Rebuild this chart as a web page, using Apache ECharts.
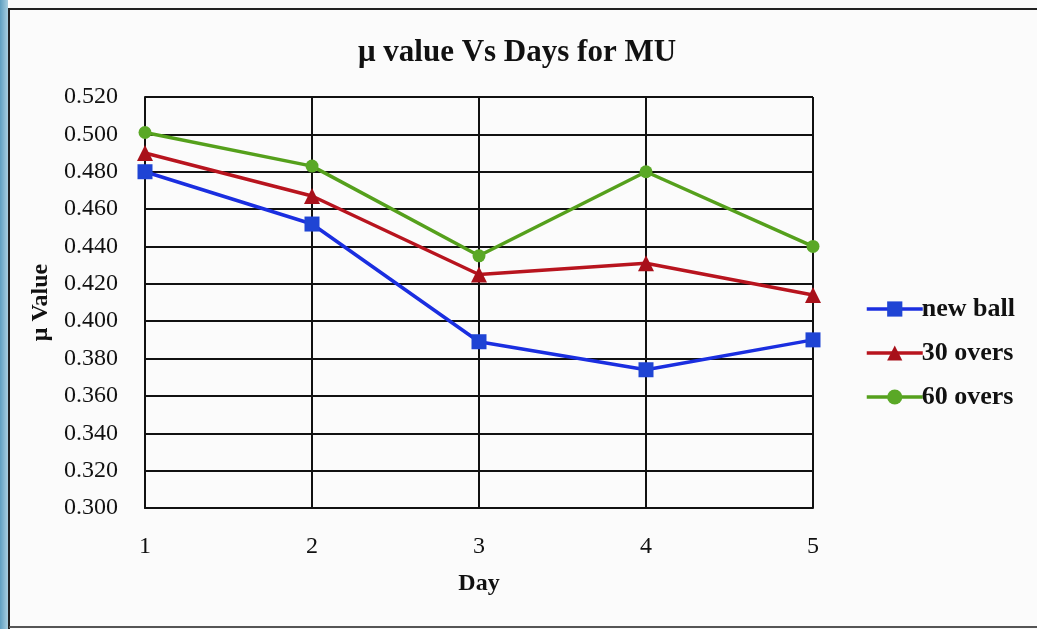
<!DOCTYPE html>
<html>
<head>
<meta charset="utf-8">
<script src="https://cdn.jsdelivr.net/npm/echarts@6/dist/echarts.min.js"></script>
<style>
  html, body { margin: 0; padding: 0; background: #fbfbfb; }
  #chart { width: 1037px; height: 629px; }
</style>
</head>
<body>
<div id="chart"></div>
<script>
// Days on the x axis
const days = ['1', '2', '3', '4', '5'];
// Friction coefficient μ per day for each ball condition
const newBall = [0.480, 0.452, 0.389, 0.374, 0.390];
const overs30 = [0.490, 0.467, 0.425, 0.431, 0.414];
const overs60 = [0.501, 0.483, 0.435, 0.480, 0.440];

const serif = '"Liberation Serif", "DejaVu Serif", serif';
const chart = echarts.init(document.getElementById('chart'));

chart.setOption({
  backgroundColor: '#fbfbfb',
  animation: false,
  title: {
    text: 'μ value Vs Days for MU',
    left: 512, top: 32, textAlign: 'center',
    textStyle: { fontFamily: serif, fontWeight: 'bold', fontSize: 31, color: '#111' }
  },
  graphic: [
    { type: 'rect', shape: { x: 0, y: 0, width: 8, height: 629 },
      style: { fill: new echarts.graphic.LinearGradient(0, 0, 1, 0, [
        { offset: 0, color: '#5f9fc0' }, { offset: 1, color: '#a9cfe0' }]) } },
    { type: 'polyline', shape: { points: [[9, 629], [9, 9], [1037, 9]] },
      style: { stroke: '#222', lineWidth: 2, fill: null } },
    { type: 'line', shape: { x1: 9, y1: 627, x2: 1037, y2: 627 },
      style: { stroke: '#555', lineWidth: 2 } }
  ],
  grid: { left: 145, right: 224, top: 97, bottom: 121 },
  legend: {
    orient: 'vertical',
    left: 860, top: 291,
    itemGap: 18,
    itemWidth: 56, itemHeight: 19,
    lineStyle: { width: 3.5 },
    textStyle: { fontFamily: serif, fontWeight: 'bold', fontSize: 26, color: '#111', padding: [0, 0, 0, -6] },
    data: ['new ball', '30 overs', '60 overs']
  },
  xAxis: {
    type: 'category',
    data: days,
    boundaryGap: false,
    name: 'Day', nameLocation: 'middle', nameGap: 64,
    nameTextStyle: { fontFamily: serif, fontWeight: 'bold', fontSize: 24, color: '#111' },
    axisLine: { lineStyle: { color: '#111', width: 2 } },
    axisTick: { show: false },
    axisLabel: { margin: 27, fontFamily: serif, fontSize: 24, color: '#111' },
    splitLine: { show: true, lineStyle: { color: '#111', width: 2 } }
  },
  yAxis: {
    type: 'value',
    min: 0.30, max: 0.52, interval: 0.02,
    name: 'μ Value', nameLocation: 'middle', nameGap: 89,
    nameTextStyle: { fontFamily: serif, fontWeight: 'bold', fontSize: 24, color: '#111' },
    axisLine: { show: true, lineStyle: { color: '#111', width: 2 } },
    axisTick: { show: false },
    axisLabel: { margin: 27, fontFamily: serif, fontSize: 24, color: '#111',
      formatter: v => v.toFixed(3) },
    splitLine: { show: true, lineStyle: { color: '#111', width: 2 } }
  },
  series: [
    { name: 'new ball', type: 'line', data: newBall,
      symbol: 'rect', symbolSize: 15,
      lineStyle: { width: 3.5, color: '#1a2ee0' },
      itemStyle: { color: '#1f44d4' } },
    { name: '30 overs', type: 'line', data: overs30,
      symbol: 'triangle', symbolSize: 16,
      lineStyle: { width: 3.5, color: '#b8141e' },
      itemStyle: { color: '#a8101a' } },
    { name: '60 overs', type: 'line', data: overs60,
      symbol: 'circle', symbolSize: 13,
      lineStyle: { width: 3.5, color: '#55a01c' },
      itemStyle: { color: '#5aa826' } }
  ]
});
</script>
</body>
</html>
